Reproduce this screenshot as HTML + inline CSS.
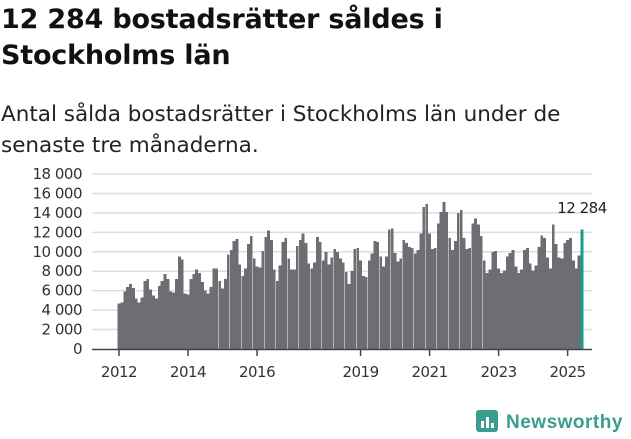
<!DOCTYPE html>
<html><head><meta charset="utf-8"><style>
body{margin:0;width:631px;height:439px;background:#fff;font-family:"DejaVu Sans",sans-serif;overflow:hidden;position:relative;color:#111}
h1{position:absolute;left:1px;top:2px;margin:0;font-size:27px;line-height:36px;font-weight:bold;letter-spacing:-0.2px}
p{position:absolute;left:1px;top:99px;margin:0;font-size:21.5px;line-height:31px;color:#222;letter-spacing:0px}
svg{position:absolute;left:0;top:0}
</style></head><body>
<h1>12 284 bostadsrätter såldes i<br>Stockholms län</h1>
<p>Antal sålda bostadsrätter i Stockholms län under de<br>senaste tre månaderna.</p>
<svg id="c" width="631" height="439"></svg>
<script>
const values=[4700,4800,5900,6400,6700,6300,5200,4800,5300,7000,7200,6100,
5500,5200,6500,7000,7700,7200,5900,5800,7200,9500,9200,5700,5600,7200,7700,8200,7800,6900,6000,5700,6400,8300,8300,7000,6200,7200,9700,10200,11100,11300,8700,7500,8300,10800,11600,9300,8500,8400,10100,11500,12200,11200,
8200,7000,8600,11000,11400,9300,8200,8200,10600,11200,11900,10900,8800,8300,8900,11500,11000,9100,10000,8700,9400,10300,10000,9300,8900,7900,6700,8000,10300,10400,9100,7500,7400,9100,9800,11100,11000,9500,8500,9500,12300,12400,9900,9000,9300,11200,10900,10500,10400,9800,10200,11900,14600,14900,11900,10300,
10400,12900,14100,15100,14100,11400,10200,11100,14000,14300,11400,10300,10400,12900,13400,12800,11600,9100,7800,8200,10000,10100,8300,7800,8100,9500,9900,10200,8500,7800,8200,10200,10400,8800,8100,8600,10500,11700,11400,9400,8300,12800,10800,9400,9300,10900,11200,11400,9100,8300,9600,12284];
const yTicks=[0,2000,4000,6000,8000,10000,12000,14000,16000,18000];
const xYears=[2012,2014,2016,2019,2021,2023,2025];
const svg=document.getElementById('c');const NS='http://www.w3.org/2000/svg';
const y0=349,pxPer=(349-174)/18000,x0=119,step=(582-119)/(values.length-1);
const yS=v=>y0-v*pxPer, xS=i=>x0+i*step;
function mk(t,a){const e=document.createElementNS(NS,t);for(const k in a)e.setAttribute(k,a[k]);svg.appendChild(e);return e;}
yTicks.forEach(v=>{
 if(v>0){const l=mk('line',{x1:92,x2:592,y1:yS(v),y2:yS(v),stroke:'#ddd','stroke-width':1.5});
 
 }
 const t=mk('text',{x:82,y:yS(v)+5,'text-anchor':'end','font-size':15,fill:'#333','font-family':'DejaVu Sans,sans-serif','letter-spacing':'-0.5'});t.textContent=v===0?'0':(v/1000)+' 000';
 
 
});
values.forEach((v,i)=>{
 const last=i===values.length-1;
 const r=mk('rect',{x:xS(i)-1.4,y:yS(v),width:2.8,height:y0-yS(v),fill:last?'#1a9a8f':'#6e6d73','shape-rendering':'crispEdges'});
 
 
});
const ax=mk('line',{x1:92,x2:592,y1:y0+0.5,y2:y0+0.5,stroke:'#444','stroke-width':1.5});


xYears.forEach(yr=>{
 const x=x0+(yr-2012)*12*step;
 const tk=mk('line',{x1:x,x2:x,y1:y0,y2:y0+7,stroke:'#444','stroke-width':1.5});
 
 
 const t=mk('text',{x:x,y:377,'text-anchor':'middle','font-size':15,fill:'#333','font-family':'DejaVu Sans,sans-serif','letter-spacing':'-0.5'});t.textContent=yr;
 
 
});
const lab=mk('text',{x:582,y:213,'text-anchor':'middle','font-size':15,fill:'#222','font-family':'DejaVu Sans,sans-serif','letter-spacing':'-0.5'});lab.textContent='12 284';


</script>
<svg width="631" height="439" style="position:absolute;left:0;top:0">
<rect x="476" y="410" width="22" height="22" rx="3" fill="#3a9d8f"/>
<rect x="481" y="421" width="3" height="7" fill="#fff"/><rect x="486" y="417" width="3" height="11" fill="#fff"/><rect x="491" y="423" width="3" height="5" fill="#fff"/>
<text x="506" y="428" font-size="19" font-weight="bold" fill="#3a9d8f" font-family="Liberation Sans,sans-serif" letter-spacing="0.5">Newsworthy</text>
</svg>
</body></html>
